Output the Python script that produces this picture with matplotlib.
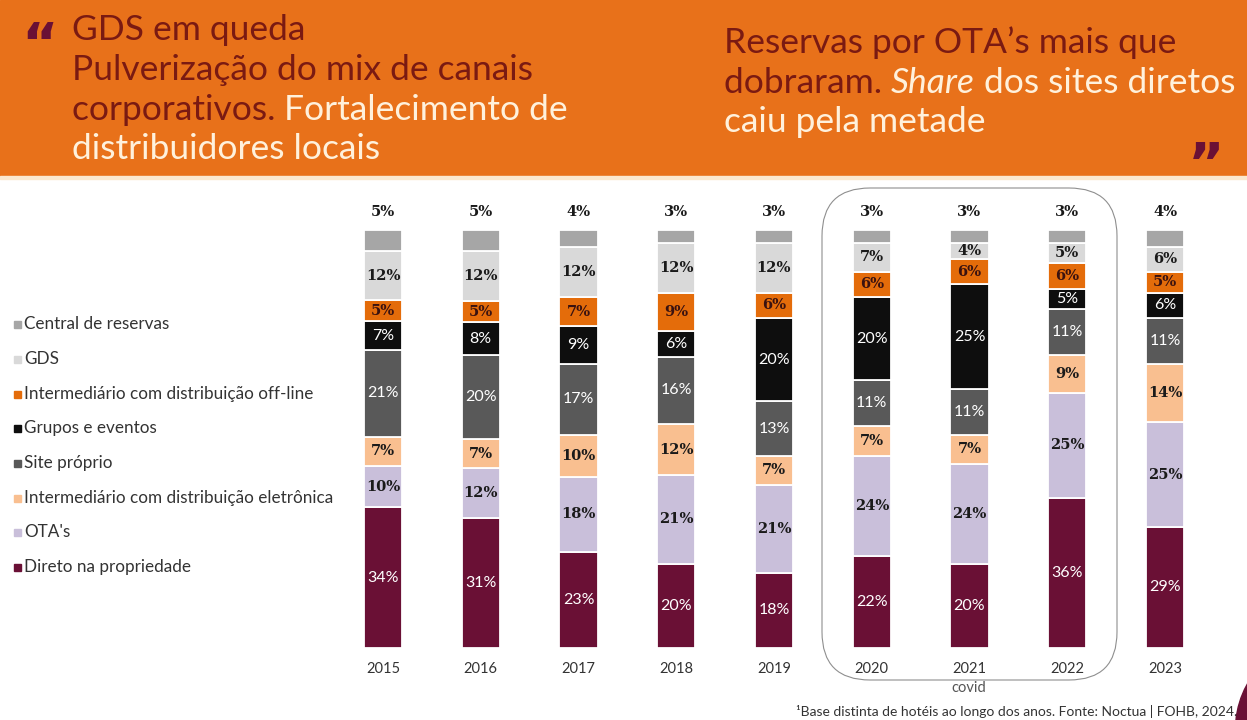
import matplotlib
matplotlib.use('Agg')
import matplotlib.pyplot as plt
from matplotlib.patches import Rectangle, FancyBboxPatch, Circle
import numpy as np

# ---------------- data ----------------
years = ['2015', '2016', '2017', '2018', '2019', '2020', '2021', '2022', '2023']
direto = [34, 31, 23, 20, 18, 22, 20, 36, 29]
otas = [10, 12, 18, 21, 21, 24, 24, 25, 25]
inter_eletronica = [7, 7, 10, 12, 7, 7, 7, 9, 14]
site_proprio = [21, 20, 17, 16, 13, 11, 11, 11, 11]
grupos_eventos = [7, 8, 9, 6, 20, 20, 25, 5, 6]
inter_offline = [5, 5, 7, 9, 6, 6, 6, 6, 5]
gds = [12, 12, 12, 12, 12, 7, 4, 5, 6]
central_reservas = [5, 5, 4, 3, 3, 3, 3, 3, 4]

series_names = ['Direto na propriedade', "OTA's", 'Intermediário com distribuição eletrônica',
                'Site próprio', 'Grupos e eventos', 'Intermediário com distribuição off-line',
                'GDS', 'Central de reservas']
series_vals = [direto, otas, inter_eletronica, site_proprio, grupos_eventos,
               inter_offline, gds, central_reservas]
colors = ['#6A1035', '#C9BFDA', '#F9BF90', '#595959', '#0E0E0E', '#E46C0A', '#D9D9D9', '#A6A6A6']
label_colors = ['white', '#1a1a1a', '#1a1a1a', 'white', 'white', '#3a1210', '#1a1a1a', '#1a1a1a']

W, H = 1247, 720
fig = plt.figure(figsize=(W / 100, H / 100), dpi=100)
fig.patch.set_facecolor('white')

bg = fig.add_axes([0, 0, 1, 1])
bg.set_xlim(0, W)
bg.set_ylim(H, 0)
bg.axis('off')

# header band
bg.add_patch(Rectangle((0, 0), W, 176, color='#E8711A', zorder=0))
bg.add_patch(Rectangle((0, 176), W, 2.5, color='#FBE8CF', zorder=0))
# decorative corner
bg.add_patch(Circle((1330, 730), 94.6, color='#6A1035', zorder=0))
# covid box
bg.add_patch(FancyBboxPatch((822, 188), 295, 492,
                            boxstyle='round,pad=0,rounding_size=48',
                            fill=False, ec='#8f8f8f', lw=0.8, zorder=1))
bg.text(969, 688, 'covid', ha='center', va='center', fontsize=10.5,
        color='#555555', family='Lato')

DARK = '#7A1A12'
CREAM = '#FFF1DC'
HFS = 25.5

fig.canvas.draw()
renderer = fig.canvas.get_renderer()


def text_width(s, style):
    t = bg.text(0, 0, s, fontsize=HFS, family='Lato', fontstyle=style)
    w = t.get_window_extent(renderer).width
    t.remove()
    return w


def rich_line(x, y, pieces):
    off = 0.0
    for s, col, style in pieces:
        bg.text(x + off, y, s, color=col, va='baseline', ha='left',
                fontsize=HFS, family='Lato', fontstyle=style)
        off += text_width(s + 'x', style) - text_width('x', style)


rich_line(72, 40, [('GDS em queda', DARK, 'normal')])
rich_line(72, 80, [('Pulverização do mix de canais', DARK, 'normal')])
rich_line(72, 120, [('corporativos. ', DARK, 'normal'), ('Fortalecimento de', CREAM, 'normal')])
rich_line(72, 159, [('distribuidores locais', CREAM, 'normal')])

rich_line(724, 53, [("Reservas por OTA’s mais que", DARK, 'normal')])
rich_line(724, 93, [('dobraram. ', DARK, 'normal'), ('Share', CREAM, 'italic'),
                    (' dos sites diretos', CREAM, 'normal')])
rich_line(724, 132, [('caiu pela metade', CREAM, 'normal')])

# quote marks
bg.text(40, 62, '“', fontsize=40, family='DejaVu Sans', fontweight='bold',
        color='#6A1035', ha='center', va='baseline')
bg.text(1206, 182, '”', fontsize=40, family='DejaVu Sans', fontweight='bold',
        color='#6A1035', ha='center', va='baseline')

# legend
legend_order = list(range(7, -1, -1))
legend_y = [324, 359, 394, 428, 463, 498, 532, 567]
for yy, idx in zip(legend_y, legend_order):
    bg.add_patch(Rectangle((14, yy - 3.5), 7, 7, color=colors[idx]))
    bg.text(24, yy, series_names[idx], fontsize=12.3, family='Lato', color='#333333',
            va='center', ha='left')

# footer
bg.text(1237, 712, '¹Base distinta de hotéis ao longo dos anos. Fonte: Noctua | FOHB, 2024.',
        fontsize=10, family='Lato', color='#333333', ha='right', va='center', zorder=5)

# ---------------- bars ----------------
spacing = 97.75
left = 383 - 0.5 * spacing
ax = fig.add_axes([left / W, 72 / H, 9 * spacing / W, 418 / H])
ax.set_xlim(-0.5, 8.5)
ax.set_ylim(0, 100)
ax.patch.set_alpha(0)
for sp in ax.spines.values():
    sp.set_visible(False)
ax.set_yticks([])
x = np.arange(len(years))
ax.set_xticks(x, years)
ax.tick_params(axis='x', length=0, pad=10, labelsize=10.5, labelcolor='#333333')
for lab in ax.get_xticklabels():
    lab.set_family('Lato')

data = np.array(series_vals, dtype=float)
totals = data.sum(axis=0)
norm = data / totals * 100
bottom = np.zeros(len(years))
for i in range(len(series_vals)):
    ax.bar(x, norm[i], bottom=bottom, width=0.39, color=colors[i],
           edgecolor='white', linewidth=1.3)
    for j in range(len(years)):
        val = series_vals[i][j]
        if i == len(series_vals) - 1:
            ax.text(x[j], 104.3, f'{val}%', ha='center', va='center', fontsize=10.5,
                    family='DejaVu Serif', fontweight='bold', color='#1a1a1a', clip_on=False)
        else:
            cy = bottom[j] + norm[i][j] / 2
            if label_colors[i] == 'white':
                ax.text(x[j], cy, f'{val}%', ha='center', va='center', fontsize=11.5,
                        family='Lato', color='white')
            else:
                ax.text(x[j], cy, f'{val}%', ha='center', va='center', fontsize=10.5,
                        family='DejaVu Serif', fontweight='bold', color=label_colors[i])
    bottom += norm[i]

fig.savefig('out.png', dpi=100)
